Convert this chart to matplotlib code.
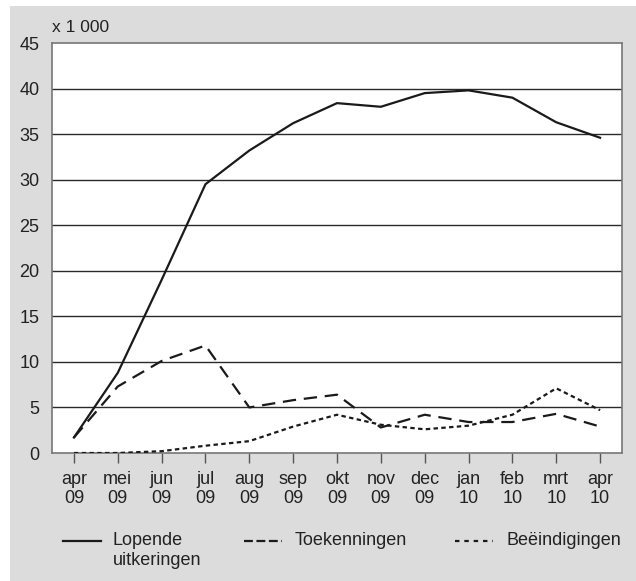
import numpy as np
import matplotlib.pyplot as plt
from matplotlib.patches import Rectangle
from matplotlib.lines import Line2D

plt.rcParams['font.family'] = ['Liberation Sans', 'DejaVu Sans']

# Data (x 1 000)
months = ["apr\n09", "mei\n09", "jun\n09", "jul\n09", "aug\n09", "sep\n09", "okt\n09",
          "nov\n09", "dec\n09", "jan\n10", "feb\n10", "mrt\n10", "apr\n10"]
lopende = [1.7, 8.8, 19.0, 29.5, 33.2, 36.2, 38.4, 38.0, 39.5, 39.8, 39.0, 36.3, 34.6]
toekenningen = [1.7, 7.3, 10.1, 11.8, 5.0, 5.8, 6.4, 2.8, 4.2, 3.4, 3.4, 4.3, 2.9]
beeindigingen = [0.0, 0.0, 0.2, 0.8, 1.3, 2.9, 4.2, 3.1, 2.6, 3.0, 4.2, 7.1, 4.7]
yticks = [0, 5, 10, 15, 20, 25, 30, 35, 40, 45]
labels = ["Lopende\nuitkeringen", "Toekenningen", "Beëindigingen"]

W, H = 636, 581
FS = 13
INK = "#1a1a1a"
DASH = (6, 3.5)
DOT = (2, 1.5)

fig = plt.figure(figsize=(W / 100, H / 100), dpi=100)
fig.patch.set_facecolor("white")
# grey panel behind everything
fig.patches.append(Rectangle((10 / W, 0), 626 / W, 1 - 6 / H,
                             transform=fig.transFigure, facecolor="#dcdcdd",
                             edgecolor="none", zorder=-5))

ax = fig.add_axes([52 / W, 1 - 453 / H, 570 / W, 410 / H])
ax.set_facecolor("white")
x = np.arange(len(months))

ax.plot(x, lopende, color=INK, lw=1.6, zorder=3)
ax.plot(x, toekenningen, color=INK, lw=1.6, dashes=DASH, zorder=3)
ax.plot(x, beeindigingen, color=INK, lw=1.6, dashes=DOT, zorder=3)

ax.set_xlim(-0.5, 12.5)
ax.set_ylim(0, 45)
ax.set_yticks(yticks)
ax.set_xticks(x)
ax.set_xticklabels(months, fontsize=FS, linespacing=1.15, color="#222222")
ax.tick_params(axis="y", length=0, labelsize=FS, pad=9, labelcolor="#222222")
ax.tick_params(axis="x", length=7, width=1, color="#555555", direction="out", pad=6)
for t in yticks[1:-1]:
    ax.axhline(t, color="#2a2a2a", lw=1, zorder=1)
for s in ax.spines.values():
    s.set_color("#777777")
    s.set_linewidth(1.2)

fig.text(52 / W, 1 - 28 / H, "x 1 000", fontsize=12.5, va="center", ha="left",
         color="#222222")

# legend drawn by hand so single-line labels sit on the first line
leg_y = 1 - 541 / H
handles = [(63, 101, None), (244, 282, (4, 1.6)), (455, 493, (2, 2.2))]
text_x = [113, 295, 506]
for (x0, x1, d), tx, lab in zip(handles, text_x, labels):
    ln = Line2D([x0 / W, x1 / W], [leg_y, leg_y], transform=fig.transFigure,
                color=INK, lw=1.6)
    if d is not None:
        ln.set_dashes(d)
    fig.add_artist(ln)
    fig.text(tx / W, 1 - 532 / H, lab, fontsize=FS, va="top", ha="left",
             linespacing=1.2, color="#222222")

fig.savefig("out.png", dpi=100)
